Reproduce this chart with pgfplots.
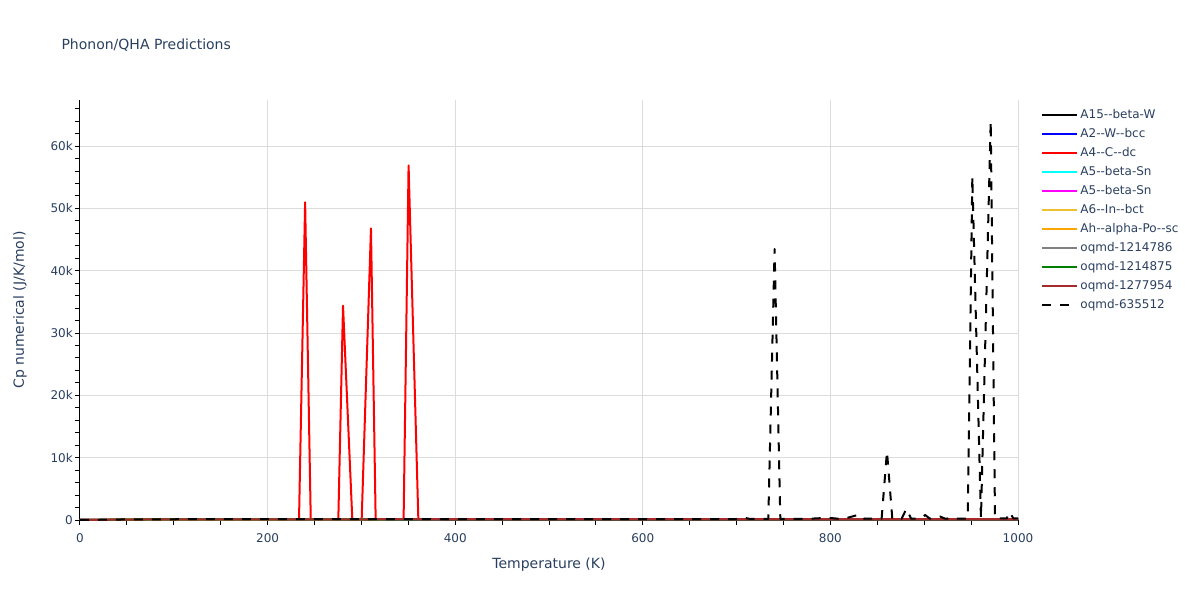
\documentclass[border=0pt]{standalone}
\usepackage{fontspec}
\setmainfont{DejaVu Sans}
\usepackage{pgfplots}
\pgfplotsset{compat=1.18}
\definecolor{txt}{HTML}{2A3F5F}
\definecolor{gridc}{HTML}{DCDCDC}
\definecolor{cblue}{HTML}{0000FF}
\definecolor{cred}{HTML}{FF0000}
\definecolor{ccyan}{HTML}{00FFFF}
\definecolor{cmagenta}{HTML}{FF00FF}
\definecolor{cgold}{HTML}{F0C030}
\definecolor{corange}{HTML}{FFA500}
\definecolor{cgray}{HTML}{808080}
\definecolor{cgreen}{HTML}{008000}
\definecolor{cbrown}{HTML}{A52A2A}
\begin{document}
\begin{tikzpicture}
\path[use as bounding box] (0,0) rectangle (1200pt,600pt);
\node[anchor=west, text=txt, font=\fontsize{14}{17}\selectfont] at (58pt,555pt) {Phonon/QHA Predictions};
\begin{axis}[
  at={(80pt,80pt)}, anchor=south west,
  width=938pt, height=420pt, scale only axis,
  xmin=0, xmax=1000, ymin=0, ymax=67400,
  axis x line*=bottom, axis y line*=left,
  axis line style={black, line width=1pt},
  tick align=outside,
  major tick length=5pt, minor tick length=5pt,
  tick style={black, line width=1pt},
  xtick={0,200,400,600,800,1000},
  xticklabels={0,200,400,600,800,1000},
  minor xtick={50,100,150,250,300,350,450,500,550,650,700,750,850,900,950},
  ytick={0,10000,20000,30000,40000,50000,60000},
  yticklabels={0,10k,20k,30k,40k,50k,60k},
  minor ytick={2000,4000,6000,8000,12000,14000,16000,18000,22000,24000,26000,28000,32000,34000,36000,38000,42000,44000,46000,48000,52000,54000,56000,58000,62000,64000,66000},
  scaled y ticks=false,
  grid=major,
  major grid style={gridc, line width=1pt},
  ticklabel style={text=txt, font=\fontsize{12}{14}\selectfont},
  xticklabel style={inner sep=2pt, yshift=-6pt},
  yticklabel style={inner sep=2pt},
  xlabel={Temperature (K)},
  ylabel={Cp numerical (J/K/mol)},
  label style={text=txt, font=\fontsize{14}{17}\selectfont},
  xlabel style={at={(axis description cs:0.5,-0.1071)}, anchor=center},
  ylabel style={at={(axis description cs:-0.064,0.5)}, anchor=center},
  clip=true,
  legend cell align=left,
  legend style={at={(axis description cs:1.0216,0.988)}, anchor=north west, draw=none, fill=none,
    font=\fontsize{12}{14}\selectfont, text=txt,
    nodes={inner sep=2pt, text height=9pt, text depth=3pt},
    row sep=3pt},
  legend image code/.code={\draw[#1] (0pt,0pt) -- (30pt,0pt); \path (0pt,0pt) -- (35pt,0pt);},
  every axis plot/.append style={line width=2pt, line join=round},
]
\addplot[black] coordinates {(0,0) (20,20) (50,60) (100,90) (200,110) (400,120) (600,125) (800,128) (1000,130)};
\addplot[cblue] coordinates {(0,0) (20,25) (50,70) (100,100) (200,115) (400,122) (600,126) (800,129) (1000,131)};
\addplot[cred] coordinates {(0,0) (20,10) (50,50) (100,90) (200,110) (233.5,115) (240,51000) (246,115) (275.4,118) (280.4,34400) (290.3,120) (300.3,120) (310.2,46800) (315.2,122) (345,125) (350.3,56900) (360.7,128) (400,130) (600,140) (800,145) (1000,150)};
\addplot[ccyan] coordinates {(0,0) (20,30) (50,75) (100,105) (200,118) (400,124) (600,128) (800,130) (1000,132)};
\addplot[cmagenta] coordinates {(0,0) (20,30) (50,75) (100,105) (200,118) (400,124) (600,128) (800,130) (1000,132)};
\addplot[cgold] coordinates {(0,0) (20,35) (50,80) (100,110) (200,120) (400,126) (600,129) (800,131) (1000,133)};
\addplot[corange] coordinates {(0,0) (20,28) (50,72) (100,102) (200,116) (400,123) (600,127) (800,130) (1000,132)};
\addplot[cgray] coordinates {(0,0) (20,22) (50,65) (100,95) (200,112) (400,121) (600,125) (800,128) (1000,130)};
\addplot[cgreen] coordinates {(0,0) (20,24) (50,68) (100,98) (200,114) (400,122) (600,126) (800,129) (1000,131)};
\addplot[cbrown] coordinates {(0,0) (20,26) (50,70) (100,100) (200,116) (400,124) (600,128) (800,132) (1000,135)};
\addplot[black, dash pattern=on 9pt off 9pt] coordinates {(0,0) (10,15) (30,60) (50,90) (100,120) (200,140) (300,150) (400,150) (500,150) (600,155) (700,160) (705,170) (709,350) (714,170) (733.8,180) (740.5,43500) (746.6,180) (760,170) (775,180) (790,300) (800,320) (810,180) (815,220) (831.5,900) (836,200) (854.6,220) (860.3,11000) (866,220) (876,220) (881,1800) (886,220) (896,220) (901,800) (906,220) (913,230) (917,550) (922,230) (925,230) (929,420) (933,230) (946.4,240) (951.3,55100) (960.5,250) (970.9,64000) (975.5,250) (988,250) (991,1300) (995,260) (1000,260)};
\legend{A15-{}-beta-W, A2-{}-W-{}-bcc, A4-{}-C-{}-dc, A5-{}-beta-Sn, A5-{}-beta-Sn, A6-{}-In-{}-bct, Ah-{}-alpha-Po-{}-sc, oqmd-1214786, oqmd-1214875, oqmd-1277954, oqmd-635512}
\end{axis}
\end{tikzpicture}
\end{document}
